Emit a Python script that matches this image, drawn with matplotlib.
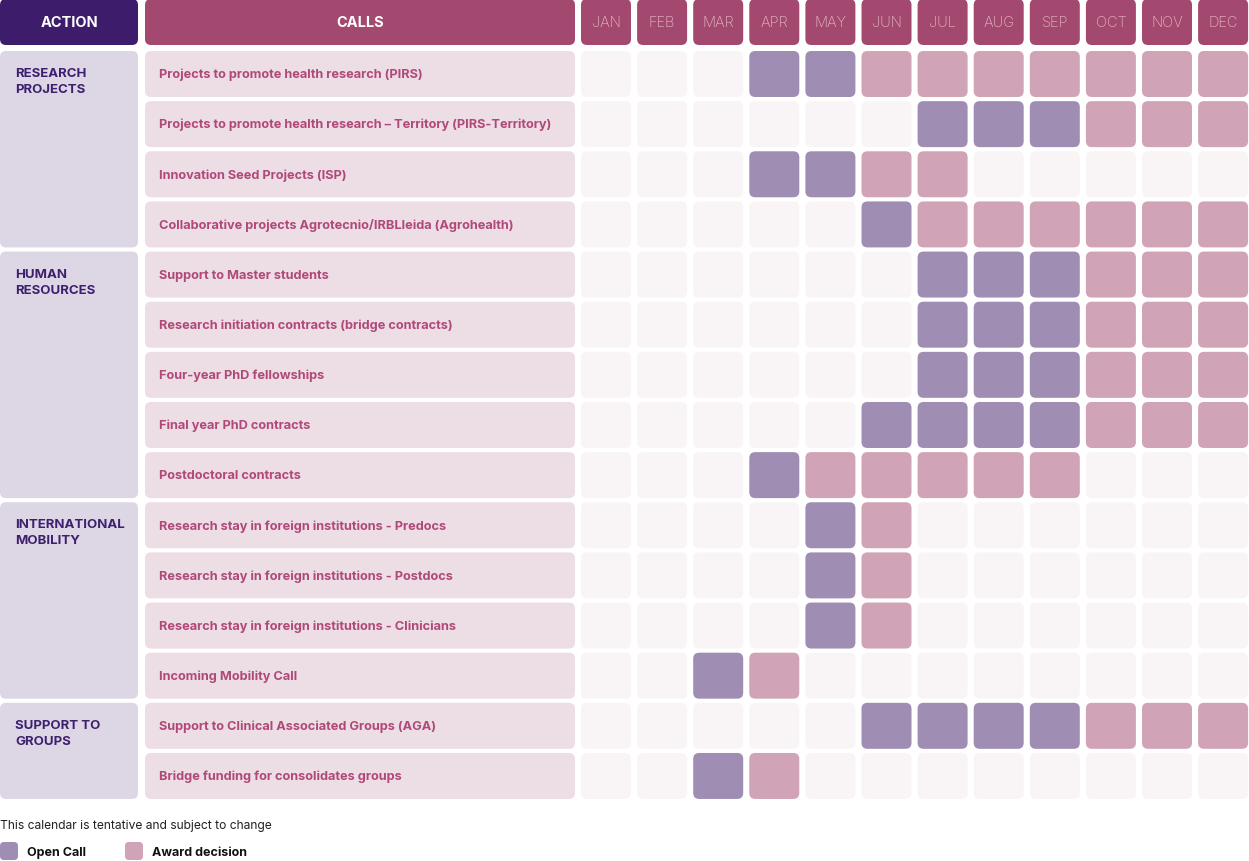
import matplotlib.pyplot as plt
from matplotlib.patches import FancyBboxPatch

# 0 = nothing, 1 = open call, 2 = award decision
MONTHS = ["JAN", "FEB", "MAR", "APR", "MAY", "JUN",
          "JUL", "AUG", "SEP", "OCT", "NOV", "DEC"]

ACTIONS = ["RESEARCH\nPROJECTS", "HUMAN\nRESOURCES",
           "INTERNATIONAL\nMOBILITY", "SUPPORT TO\nGROUPS"]
ACTION_ROWS = [4, 5, 4, 2]

CALLS = [
    "Projects to promote health research (PIRS)",
    "Projects to promote health research \u2013 Territory (PIRS-Territory)",
    "Innovation Seed Projects (ISP)",
    "Collaborative projects Agrotecnio/IRBLleida (Agrohealth)",
    "Support to Master students",
    "Research initiation contracts (bridge contracts)",
    "Four-year PhD fellowships",
    "Final year PhD contracts",
    "Postdoctoral contracts",
    "Research stay in foreign institutions - Predocs",
    "Research stay in foreign institutions - Postdocs",
    "Research stay in foreign institutions - Clinicians",
    "Incoming Mobility Call",
    "Support to Clinical Associated Groups (AGA)",
    "Bridge funding for consolidates groups",
]

SCHEDULE = [
    [0, 0, 0, 1, 1, 2, 2, 2, 2, 2, 2, 2],
    [0, 0, 0, 0, 0, 0, 1, 1, 1, 2, 2, 2],
    [0, 0, 0, 1, 1, 2, 2, 0, 0, 0, 0, 0],
    [0, 0, 0, 0, 0, 1, 2, 2, 2, 2, 2, 2],
    [0, 0, 0, 0, 0, 0, 1, 1, 1, 2, 2, 2],
    [0, 0, 0, 0, 0, 0, 1, 1, 1, 2, 2, 2],
    [0, 0, 0, 0, 0, 0, 1, 1, 1, 2, 2, 2],
    [0, 0, 0, 0, 0, 1, 1, 1, 1, 2, 2, 2],
    [0, 0, 0, 1, 2, 2, 2, 2, 2, 0, 0, 0],
    [0, 0, 0, 0, 1, 2, 0, 0, 0, 0, 0, 0],
    [0, 0, 0, 0, 1, 2, 0, 0, 0, 0, 0, 0],
    [0, 0, 0, 0, 1, 2, 0, 0, 0, 0, 0, 0],
    [0, 0, 1, 2, 0, 0, 0, 0, 0, 0, 0, 0],
    [0, 0, 0, 0, 0, 1, 1, 1, 1, 2, 2, 2],
    [0, 0, 1, 2, 0, 0, 0, 0, 0, 0, 0, 0],
]

LEGEND = ["Open Call", "Award decision"]
NOTE = "This calendar is tentative and subject to change"

# colours
C_ACTION_HEAD = "#3d1d6b"
C_CALL_HEAD = "#a3486f"
C_MONTH_TXT = "#e4b3c8"
C_ACTION_BG = "#dcd6e5"
C_CALL_BG = "#eddde4"
C_ACTION_TXT = "#3e1f6e"
C_CALL_TXT = "#b0497a"
CELL_COLORS = {0: "#f9f5f7", 1: "#9f8db4", 2: "#d0a3b7"}

plt.rcParams["font.family"] = ["Inter", "DejaVu Sans"]

W, H = 1249, 862
fig = plt.figure(figsize=(W / 100, H / 100), dpi=100)
ax = fig.add_axes([0, 0, 1, 1])
ax.set_xlim(0, W)
ax.set_ylim(H, 0)
ax.axis("off")

# layout (pixels)
ROW_TOP, ROW_PITCH, ROW_H = 52, 50.14, 46
HEAD_H = 46
ACT_X, ACT_W = 0, 138
CALL_X, CALL_W = 145, 430
MON_X, MON_PITCH, MON_W = 581, 56.1, 50
RAD = 6


def box(x, y, w, h, color):
    ax.add_patch(FancyBboxPatch((x + RAD, y + RAD), w - 2 * RAD, h - 2 * RAD,
                                boxstyle=f"round,pad={RAD}",
                                fc=color, ec="none", lw=0))


# header row
box(ACT_X, 0, ACT_W, HEAD_H, C_ACTION_HEAD)
ax.text(ACT_X + ACT_W / 2, HEAD_H / 2, "ACTION", color="white", fontsize=10.5,
        fontweight="bold", ha="center", va="center")
box(CALL_X, 0, CALL_W, HEAD_H, C_CALL_HEAD)
ax.text(CALL_X + CALL_W / 2, HEAD_H / 2, "CALLS", color="white", fontsize=10.5,
        fontweight="bold", ha="center", va="center")
for j, m in enumerate(MONTHS):
    x = MON_X + j * MON_PITCH
    box(x, 0, MON_W, HEAD_H, C_CALL_HEAD)
    ax.text(x + MON_W / 2, HEAD_H / 2, m, color=C_MONTH_TXT, fontsize=10.5,
            fontweight="light", ha="center", va="center")

# action groups
start = 0
for label, n in zip(ACTIONS, ACTION_ROWS):
    y0 = ROW_TOP + start * ROW_PITCH
    h = (n - 1) * ROW_PITCH + ROW_H
    box(ACT_X, y0, ACT_W, h, C_ACTION_BG)
    ax.text(ACT_X + 15, y0 + 16, label, color=C_ACTION_TXT, fontsize=9.5,
            fontweight="bold", ha="left", va="top", linespacing=1.45)
    start += n

# call rows and month cells
for i, (call, row) in enumerate(zip(CALLS, SCHEDULE)):
    y0 = ROW_TOP + i * ROW_PITCH
    box(CALL_X, y0, CALL_W, ROW_H, C_CALL_BG)
    ax.text(CALL_X + 14, y0 + ROW_H / 2, call, color=C_CALL_TXT, fontsize=9.2,
            fontweight="bold", ha="left", va="center")
    for j, v in enumerate(row):
        box(MON_X + j * MON_PITCH, y0, MON_W, ROW_H, CELL_COLORS[v])

# footer
ax.text(0, 826, NOTE, color="#222222", fontsize=8.7, ha="left", va="center")
for k, (lab, x) in enumerate(zip(LEGEND, [0, 125])):
    ax.add_patch(FancyBboxPatch((x + 4, 843 + 4), 10, 10,
                                boxstyle="round,pad=4",
                                fc=CELL_COLORS[k + 1], ec="none"))
    ax.text(x + 27, 853, lab, color="#111111", fontsize=9, fontweight="bold",
            ha="left", va="center")

fig.savefig("out.png", dpi=100)
